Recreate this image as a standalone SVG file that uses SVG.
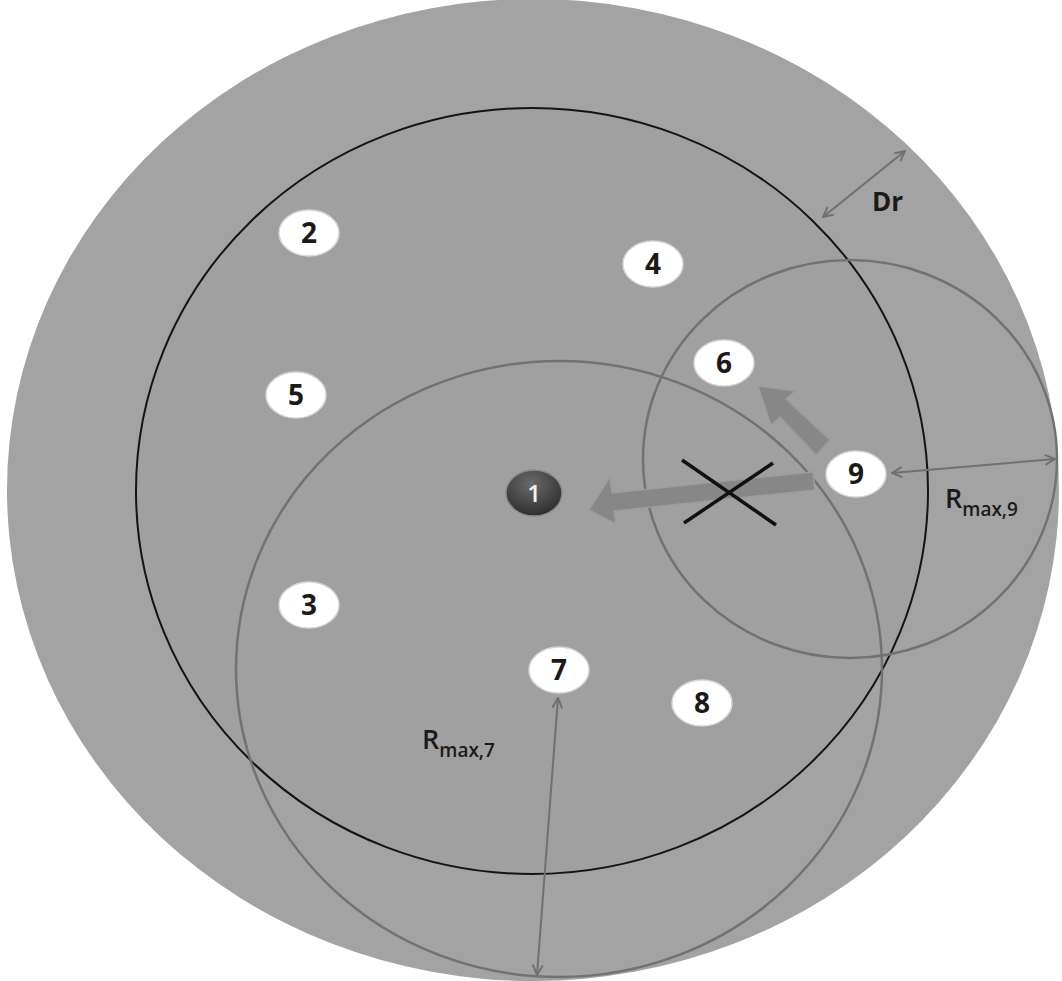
<svg xmlns="http://www.w3.org/2000/svg" width="1062" height="981" viewBox="0 0 1062 981">
<defs>
<style>
.node{fill:#ffffff;stroke:#d8d8d8;stroke-width:1.5}
.num{font-family:"Open Sans","DejaVu Sans",sans-serif;font-weight:bold;font-size:28px;fill:#1a1a1a;text-anchor:middle}
.lbl{font-family:"Open Sans","DejaVu Sans",sans-serif;fill:#1a1a1a;font-weight:600}
.lbl.b{font-weight:bold}
.thin{stroke:#707070;stroke-width:2;fill:none;marker-start:url(#ah);marker-end:url(#ah)}
.fat{fill:#878787;stroke:#9c9c9c;stroke-width:1.5}
</style>
<marker id="ah" viewBox="0 0 12 12" refX="11" refY="6" markerWidth="12" markerHeight="12" markerUnits="userSpaceOnUse" orient="auto-start-reverse">
<path d="M1,1 L11,6 L1,11" fill="none" stroke="#707070" stroke-width="2"/>
</marker>
<radialGradient id="dark" cx="0.45" cy="0.3" r="0.75">
<stop offset="0" stop-color="#6a6a6a"/>
<stop offset="1" stop-color="#2a2a2a"/>
</radialGradient>
</defs>
<rect width="1062" height="981" fill="#ffffff"/>
<g id="regions">
<ellipse cx="533" cy="490" rx="526" ry="491" fill="#a3a3a3"/>
<ellipse cx="532" cy="491" rx="396" ry="383" fill="#a0a0a0" stroke="#141414" stroke-width="2"/>
<ellipse cx="559" cy="669" rx="323" ry="308" fill="none" stroke="#727272" stroke-width="2.5"/>
<ellipse cx="850" cy="459" rx="207" ry="199" fill="none" stroke="#727272" stroke-width="2.5"/>
</g>
<g id="connectors">
<polygon class="fat" points="813,472 815,490 614,511 616,524 589,510 610,477 612,493"/>
<polygon class="fat" points="830,440 816,455 780,417 771,425 758,386 795,391 786,399"/>
<line class="thin" x1="823" y1="217" x2="905" y2="151"/>
<line class="thin" x1="892" y1="473" x2="1055" y2="459"/>
<line class="thin" x1="558" y1="698" x2="537" y2="975"/>
<line x1="682" y1="460" x2="776" y2="525" stroke="#111" stroke-width="3.5"/>
<line x1="684" y1="523" x2="773" y2="463" stroke="#111" stroke-width="3.5"/>
</g>
<g id="node1">
<ellipse cx="534" cy="493" rx="28" ry="23" fill="url(#dark)" stroke="#8a8a8a" stroke-width="1.5"/>
<text x="534" y="502" font-family="'Open Sans','DejaVu Sans',sans-serif" font-weight="600" font-size="24" fill="#f2f2f2" text-anchor="middle">1</text>
</g>
<g id="node2"><ellipse class="node" cx="309" cy="233" rx="30" ry="23"/><text class="num" x="309" y="243">2</text></g>
<g id="node3"><ellipse class="node" cx="309" cy="605" rx="30" ry="23"/><text class="num" x="309" y="615">3</text></g>
<g id="node4"><ellipse class="node" cx="653" cy="264" rx="30" ry="23"/><text class="num" x="653" y="274">4</text></g>
<g id="node5"><ellipse class="node" cx="296" cy="395" rx="30" ry="23"/><text class="num" x="296" y="405">5</text></g>
<g id="node6"><ellipse class="node" cx="724" cy="363" rx="30" ry="23"/><text class="num" x="724" y="373">6</text></g>
<g id="node7"><ellipse class="node" cx="559" cy="670" rx="30" ry="23"/><text class="num" x="559" y="680">7</text></g>
<g id="node8"><ellipse class="node" cx="702" cy="703" rx="30" ry="23"/><text class="num" x="702" y="713">8</text></g>
<g id="node9"><ellipse class="node" cx="856" cy="474" rx="30" ry="23"/><text class="num" x="856" y="484">9</text></g>
<g id="labels">
<text class="lbl b" x="872" y="211" font-size="26">Dr</text>
<text class="lbl" x="945" y="508" font-size="27">R<tspan font-size="19" dy="8">max,9</tspan></text>
<text class="lbl" x="422" y="749" font-size="27">R<tspan font-size="19" dy="8">max,7</tspan></text>
</g>
</svg>
